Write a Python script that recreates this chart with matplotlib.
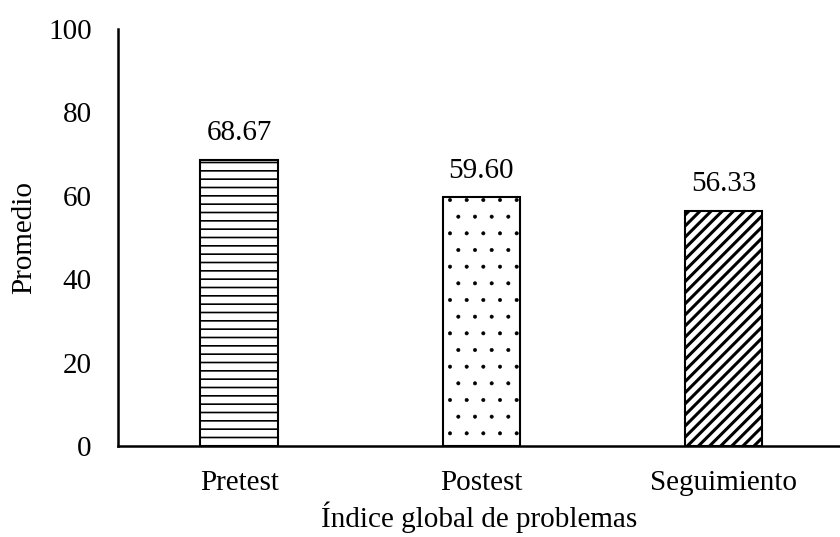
import numpy as np
import matplotlib.pyplot as plt

plt.rcParams['font.family'] = ['Liberation Serif', 'DejaVu Serif']

categorias = ['Pretest', 'Postest', 'Seguimiento']
promedios = [68.67, 59.60, 56.33]
etiquetas = ['68.67', '59.60', '56.33']
tramas = ['--', '.', '///']
grosor_trama = [1.2, 0.4, 2.2]

fig = plt.figure(figsize=(8.4, 5.37), dpi=100)
ax = fig.add_axes([0.1405, 0.1695, 0.8595, 0.7765])

x = np.arange(len(categorias))
barras = ax.bar(x, promedios, width=0.32, color='white', edgecolor='black',
                linewidth=1.5)
for b, h, g in zip(barras, tramas, grosor_trama):
    b.set_hatch(h)
    try:
        b.set_hatch_linewidth(g)
    except AttributeError:
        pass

for xi, v, t in zip(x, promedios, etiquetas):
    ax.annotate(t, (xi, v), xytext=(0, 10), textcoords='offset points',
                ha='center', va='bottom', fontsize=21)

ax.set_xlim(-0.5, 2.48)
ax.set_ylim(0, 100)
ax.set_yticks([0, 20, 40, 60, 80, 100])
ax.set_xticks(x)
ax.set_xticklabels(categorias)
ax.tick_params(length=0, labelsize=21)
ax.tick_params(axis='y', pad=19)
ax.tick_params(axis='x', pad=17)
ax.spines['top'].set_visible(False)
ax.spines['right'].set_visible(False)
ax.spines['left'].set_linewidth(1.8)
ax.spines['bottom'].set_linewidth(1.8)
ax.set_ylabel('Promedio', fontsize=21, labelpad=8)
ax.set_xlabel('Índice global de problemas', fontsize=21, labelpad=4)

fig.savefig('out.png')
